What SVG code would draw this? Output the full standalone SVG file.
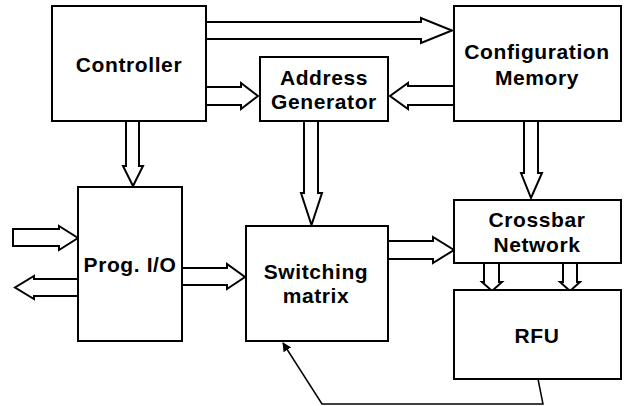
<svg xmlns="http://www.w3.org/2000/svg" width="624" height="406" viewBox="0 0 624 406">
  <defs>
    <style>
      .box { fill: #fff; stroke: #000; stroke-width: 2; }
      .bus { fill: #fff; stroke: #000; stroke-width: 2; stroke-linejoin: miter; }
      .wire { fill: none; stroke: #000; stroke-width: 1.5; }
      .lbl { font-family: "Liberation Sans", Arial, sans-serif; font-weight: bold; font-size: 21px; text-anchor: middle; fill: #000; letter-spacing: 0.6px; }
    </style>
    <marker id="tip" viewBox="0 0 10 10" refX="9" refY="5" markerWidth="9" markerHeight="9" orient="auto-start-reverse" markerUnits="userSpaceOnUse">
      <path d="M0,0 L10,5 L0,10 z" fill="#000"/>
    </marker>
  </defs>
  <rect width="624" height="406" fill="#fff"/>

  <g id="connectors">
    <!-- Controller to Configuration Memory -->
    <path class="bus" d="M206,22 H421 V18 L452,30.5 L421,43 V39 H206"/>
    <!-- Controller to Address Generator -->
    <path class="bus" d="M206,87 H241 V83 L258,96 L241,109 V105 H206"/>
    <!-- Configuration Memory to Address Generator -->
    <path class="bus" d="M454,86 H408 V83 L390,96 L408,109 V105 H454"/>
    <!-- Controller to Prog. I/O -->
    <path class="bus" d="M126,121 V166 H123 L133,186 L143,166 H139 V121"/>
    <!-- External input to Prog. I/O -->
    <path class="bus" d="M13,229 H59 V226 L78,238 L59,250 V246 H13 Z"/>
    <!-- Prog. I/O to external output -->
    <path class="bus" d="M78,279 H34 V276 L15,287.5 L34,299 V296 H78"/>
    <!-- Prog. I/O to Switching matrix -->
    <path class="bus" d="M182,268 H227 V264 L245,277 L227,289 V285 H182"/>
    <!-- Address Generator to Switching matrix -->
    <path class="bus" d="M304,121 V193 H301 L311.5,225 L322,193 H318 V121"/>
    <!-- Configuration Memory to Crossbar Network -->
    <path class="bus" d="M524,121 V173 H521 L531,198 L542,173 H538 V121"/>
    <!-- Switching matrix to Crossbar Network -->
    <path class="bus" d="M388,241 H433 V237 L454,250 L433,263 V259 H388"/>
    <!-- Crossbar Network to RFU -->
    <path class="bus" d="M484,263 V282 H482 L492,291 L502,282 H499 V263"/>
    <path class="bus" d="M563,263 V282 H560 L570,291 L580,282 H577 V263"/>
    <!-- RFU feedback to Switching matrix -->
    <polyline class="wire" points="538,379 543,404 322,404 283,343" marker-end="url(#tip)"/>
  </g>

  <g id="controller">
    <rect class="box" x="52" y="6" width="154" height="115"/>
    <text class="lbl" x="129" y="72">Controller</text>
  </g>
  <g id="config-memory">
    <rect class="box" x="454" y="6" width="167" height="115"/>
    <text class="lbl" x="537" y="59">Configuration</text>
    <text class="lbl" x="537" y="85">Memory</text>
  </g>
  <g id="address-generator">
    <rect class="box" x="260" y="57" width="128" height="64"/>
    <text class="lbl" x="324" y="85">Address</text>
    <text class="lbl" x="324" y="109">Generator</text>
  </g>
  <g id="prog-io">
    <rect class="box" x="78" y="187" width="104" height="154"/>
    <text class="lbl" x="130" y="272">Prog. I/O</text>
  </g>
  <g id="switching-matrix">
    <rect class="box" x="246" y="226" width="142" height="115"/>
    <text class="lbl" x="316" y="279">Switching</text>
    <text class="lbl" x="316" y="303">matrix</text>
  </g>
  <g id="crossbar-network">
    <rect class="box" x="454" y="200" width="167" height="63"/>
    <text class="lbl" x="537" y="227">Crossbar</text>
    <text class="lbl" x="537" y="252">Network</text>
  </g>
  <g id="rfu">
    <rect class="box" x="454" y="290" width="167" height="89"/>
    <text class="lbl" x="537" y="343">RFU</text>
  </g>
</svg>
